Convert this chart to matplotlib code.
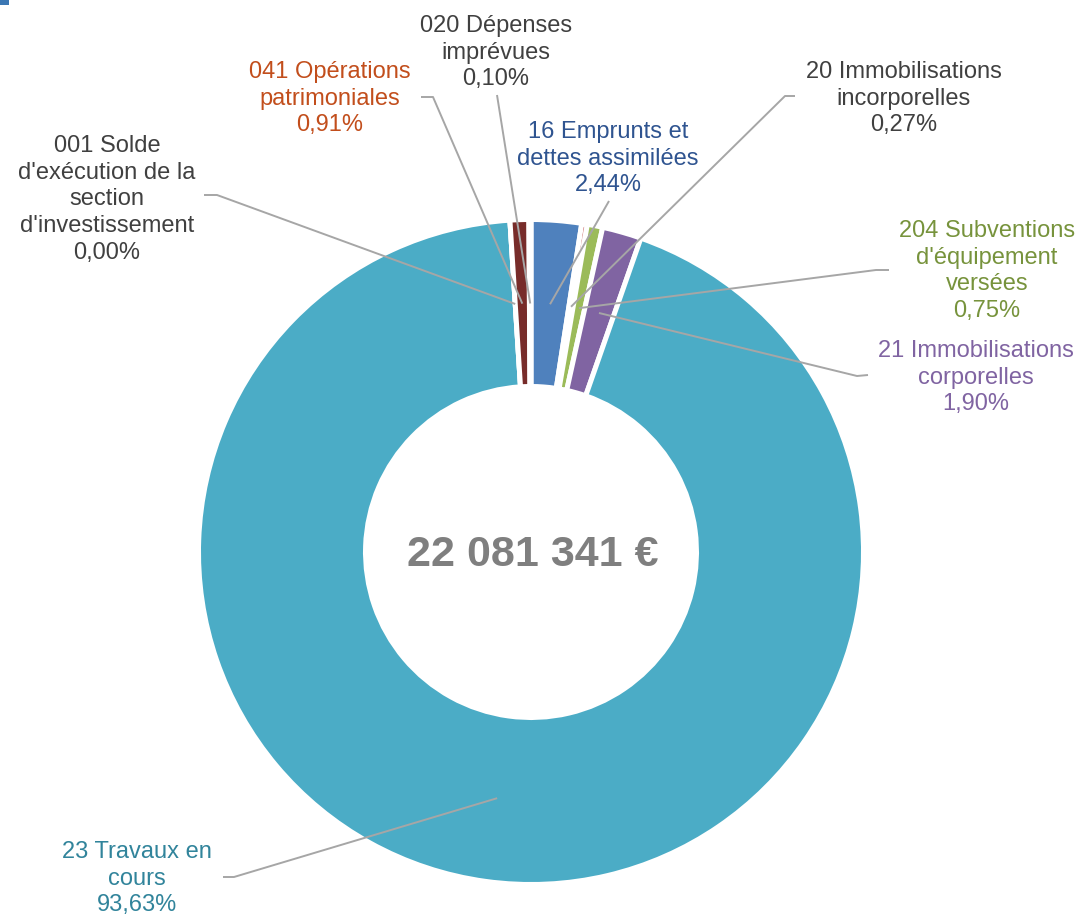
import matplotlib
matplotlib.use('Agg')
import matplotlib.pyplot as plt
from matplotlib.patches import Rectangle
import numpy as np

FIG_W, FIG_H = 1081, 915

# slices in drawing order (clockwise from 12 o'clock)
CATEGORIES = [
    '16 Emprunts et\ndettes assimilées',
    '20 Immobilisations\nincorporelles',
    "204 Subventions\nd'équipement\nversées",
    '21 Immobilisations\ncorporelles',
    '23 Travaux en\ncours',
    "001 Solde\nd'exécution de la\nsection\nd'investissement",
    '041 Opérations\npatrimoniales',
    '020 Dépenses\nimprévues',
]
PERCENTS = [2.44, 0.27, 0.75, 1.90, 93.63, 0.00, 0.91, 0.10]
TOTAL = 22081341

SLICE_COLORS = ['#4F81BD', '#C0504D', '#9BBB59', '#8064A2',
                '#4BACC6', '#F79646', '#772C2A', '#C0504D']
TEXT_COLORS = ['#2F5490', '#404040', '#77933C', '#8064A2',
               '#31849B', '#404040', '#C24E1C', '#404040']

# label layout in pixels: text centre x, first baseline y, leader points near text
LABEL_X = [608, 904, 987, 976, 137, 107, 330, 496]
LABEL_Y0 = [138, 78, 237, 357, 858, 152, 78, 32]
LEADERS = [
    [(609, 201)],
    [(795, 96), (785, 96)],
    [(889, 270), (876, 270)],
    [(868, 375), (857, 376)],
    [(223, 877), (234, 877)],
    [(204, 195), (217, 195)],
    [(421, 97), (433, 97)],
    [(497, 95)],
]
LINE_STEP = 26.7

CENTER = (531, 552)
R_OUT = 332.5
R_IN = 165.5


def y_px(y):
    return FIG_H - y


def fmt_pct(v: float) -> str:
    return f'{v:.2f}'.replace('.', ',') + '%'


def fmt_total(v: int) -> str:
    return f'{v:,}'.replace(',', ' ') + ' €'


def main() -> None:
    plt.rcParams['font.family'] = ['Liberation Sans', 'DejaVu Sans']

    fig = plt.figure(figsize=(FIG_W / 100, FIG_H / 100), dpi=100)
    ax = fig.add_axes([0, 0, 1, 1])

    cx, cy = CENTER[0], y_px(CENTER[1])
    wedges, _ = ax.pie(PERCENTS, colors=SLICE_COLORS, startangle=90,
                       counterclock=False, radius=R_OUT, center=(cx, cy),
                       frame=True,
                       wedgeprops=dict(width=R_OUT - R_IN, edgecolor='white',
                                       linewidth=3.6))

    r_mid = (R_OUT + R_IN) / 2 - 0.5
    for i, w in enumerate(wedges):
        ang = np.deg2rad((w.theta1 + w.theta2) / 2)
        ax_pt = (cx + r_mid * np.cos(ang), cy + r_mid * np.sin(ang))
        pts = [(x, y_px(y)) for x, y in LEADERS[i]] + [ax_pt]
        xs, ys = zip(*pts)
        ax.plot(xs, ys, color='#A6A6A6', lw=1.4, solid_capstyle='butt', zorder=3)

        lines = CATEGORIES[i].split('\n') + [fmt_pct(PERCENTS[i])]
        for k, line in enumerate(lines):
            ax.text(LABEL_X[i], y_px(LABEL_Y0[i] + k * LINE_STEP), line,
                    ha='center', va='baseline', fontsize=17,
                    color=TEXT_COLORS[i], zorder=4)

    ax.text(532.5, y_px(566), fmt_total(TOTAL), ha='center', va='baseline',
            fontsize=31, fontweight='bold', color='#7F7F7F')

    ax.add_patch(Rectangle((0, y_px(4.5)), 9, 4.5, color='#3C78B4', lw=0))

    ax.set_xlim(0, FIG_W)
    ax.set_ylim(0, FIG_H)
    ax.axis('off')

    fig.savefig('out.png', dpi=100)


if __name__ == '__main__':
    main()
